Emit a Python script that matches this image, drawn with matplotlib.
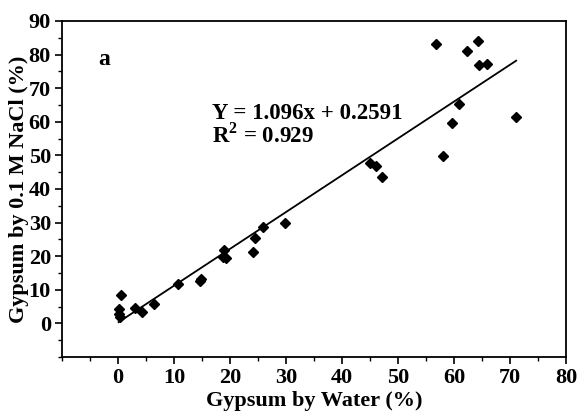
import matplotlib
matplotlib.use('Agg')
import matplotlib.pyplot as plt
import numpy as np
from matplotlib.ticker import MultipleLocator

# gypsum readings (%), water vs 0.1 M NaCl
water = [0.1, 0.2, 0.4, 0.6, 3.0, 4.3, 6.4, 10.8, 14.6, 14.8, 18.8, 19.2, 19.0,
         24.1, 24.5, 25.9, 29.9, 45.0, 46.0, 47.1, 56.8, 58.1, 59.6, 60.9,
         62.4, 64.2, 64.5, 65.9, 71.1]
nacl = [4.2, 2.8, 2.0, 8.6, 4.5, 3.3, 5.7, 11.6, 12.6, 13.2, 19.7, 19.5, 21.8,
        21.3, 25.3, 28.8, 29.8, 47.8, 46.9, 43.6, 83.1, 49.8, 59.7, 65.3,
        81.1, 84.1, 76.9, 77.1, 61.5]
slope = 1.096
intercept = 0.2591
xticks = list(range(0, 81, 10))
yticks = list(range(0, 91, 10))

plt.rcParams['font.family'] = 'Liberation Serif'
plt.rcParams['font.weight'] = 'bold'
plt.rcParams['mathtext.fontset'] = 'custom'
plt.rcParams['mathtext.rm'] = 'Liberation Serif:bold'
plt.rcParams['mathtext.bf'] = 'Liberation Serif:bold'

fig = plt.figure(figsize=(5.79, 4.17), dpi=100)
ax = fig.add_axes([62/579, 1 - 357/417, 504/579, 336/417])

ax.plot(water, nacl, 'D', color='black', markersize=5.5)
xs = np.array([min(water), max(water)])
ax.plot(xs, slope * xs + intercept, color='black', linewidth=1.3)

ax.set_xlim(-10, 80)
ax.set_ylim(-10, 90)
ax.set_xticks(xticks, labels=[str(t) for t in xticks], fontweight='bold', fontsize=16)
ax.set_yticks(yticks, labels=[str(t) for t in yticks], fontweight='bold', fontsize=16)
ax.xaxis.set_minor_locator(MultipleLocator(5))
ax.yaxis.set_minor_locator(MultipleLocator(5))
ax.tick_params(which='major', direction='out', length=5, width=1.2, pad=3)
ax.tick_params(which='minor', direction='out', length=3, width=1.0)
for s in ax.spines.values():
    s.set_linewidth(1.3)

ax.set_xlabel('Gypsum by Water (%)', fontsize=16, fontweight='bold', labelpad=2)
ax.set_ylabel('Gypsum by 0.1 M NaCl (%)', fontsize=16, fontweight='bold', labelpad=0)

ax.text(-3.6, 78.5, 'a', fontsize=17, fontweight='bold', va='center')
ax.text(16.7, 62.6, 'Y = 1.096x + 0.2591', fontsize=16.5, fontweight='bold', va='center')
ax.text(16.7, 56.0, r'R$^\mathbf{2}$ = 0.929', fontsize=16.5, fontweight='bold', va='center')

fig.savefig('out.png', dpi=100)
